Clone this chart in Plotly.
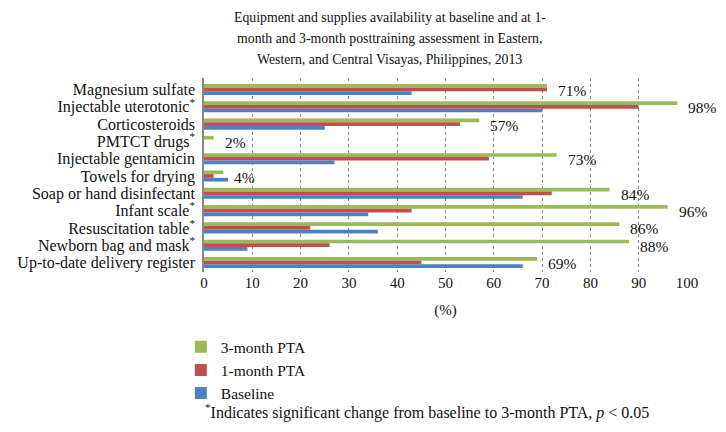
import plotly.graph_objects as go

categories = ["Magnesium sulfate", "Injectable uterotonic<sup>*</sup>", "Corticosteroids",
              "PMTCT drugs<sup>*</sup>", "Injectable gentamicin", "Towels for drying",
              "Soap or hand disinfectant", "Infant scale<sup>*</sup>", "Resuscitation table<sup>*</sup>",
              "Newborn bag and mask<sup>*</sup>", "Up-to-date delivery register"]
month3 = [71, 98, 57, 2, 73, 4, 84, 96, 86, 88, 69]
month1 = [71, 90, 53, 0, 59, 2, 72, 43, 22, 26, 45]
baseline = [43, 70, 25, 0, 27, 5, 66, 34, 36, 9, 66]
labels3 = [f"{v}%" for v in month3]
xticks = list(range(0, 101, 10))
title_lines = ["Equipment and supplies availability at baseline and at 1-",
               "month and 3-month posttraining assessment in Eastern,",
               "Western, and Central Visayas, Philippines, 2013"]

FONT = "Liberation Serif"
TXT = "#111"
fig = go.Figure()
for name, vals, col in [("3-month PTA", month3, "#9BBB59"),
                        ("1-month PTA", month1, "#C0504D"),
                        ("Baseline", baseline, "#4F81BD")]:
    fig.add_trace(go.Bar(name=name, y=categories, x=vals, orientation="h",
                         marker=dict(color=col, line=dict(width=0))))

for c, v, t in zip(categories, month3, labels3):
    fig.add_annotation(x=v, y=c, text=t, showarrow=False, xanchor="left",
                       xshift=9, yshift=-1, font=dict(family=FONT, size=15.5, color=TXT))

# title (one annotation per line)
for i, line in enumerate(title_lines):
    fig.add_annotation(x=0.385, y=1.0, xref="paper", yref="paper", xanchor="center",
                       yanchor="middle", yshift=78 - 17 - 21 * i, showarrow=False,
                       text=line, font=dict(family=FONT, size=13.8, color=TXT))

# footnote
fig.add_annotation(x=-0.003, y=-0.72, xref="paper", yref="paper", xanchor="left", yanchor="middle",
                   showarrow=False,
                   text="<sup>*</sup>Indicates significant change from baseline to 3-month PTA, <i>p</i> < 0.05",
                   font=dict(family=FONT, size=16, color=TXT))

fig.update_layout(
    width=726, height=432,
    margin=dict(l=204, r=39, t=78, b=160),
    paper_bgcolor="white", plot_bgcolor="white",
    barmode="group", bargap=0.36, bargroupgap=0,
    font=dict(family=FONT, size=16, color=TXT),
    legend=dict(x=-0.048, y=-0.30, xanchor="left", yanchor="top", orientation="v",
                font=dict(family=FONT, size=15.5, color=TXT), itemwidth=30,
                tracegroupgap=0, bgcolor="rgba(0,0,0,0)"),
    showlegend=True,
)
fig.update_xaxes(range=[0, 100], tickvals=xticks, showgrid=True, gridcolor="#888",
                 griddash="dot", gridwidth=1, zeroline=False, showline=False,
                 tickfont=dict(family=FONT, size=15, color=TXT), ticks="", automargin=False,
                 title=dict(text="(%)", font=dict(family=FONT, size=15, color=TXT), standoff=14))
fig.update_yaxes(autorange="reversed", showline=True, linecolor="#888", linewidth=1.5,
                 tickmode="array", tickvals=categories, ticktext=categories,
                 ticks="", tickfont=dict(family=FONT, size=16, color=TXT), showgrid=False,
                 ticklabelstandoff=4, automargin=False)
fig.write_html("out.html", config={"displayModeBar": False},
               post_script="document.body.style.margin='0';")
